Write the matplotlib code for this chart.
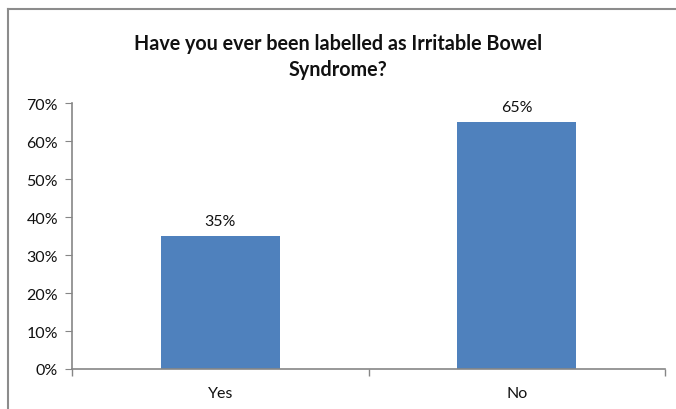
import matplotlib
matplotlib.use("Agg")
import matplotlib.pyplot as plt
from matplotlib.lines import Line2D
from matplotlib.ticker import FixedLocator, PercentFormatter

# Dados
categorias = ["Yes", "No"]
valores = [35, 65]
titulo = "Have you ever been labelled as Irritable Bowel\nSyndrome?"
ticks_y = [0, 10, 20, 30, 40, 50, 60, 70]

COR_BARRA = "#4F81BD"
COR_EIXO = "#868686"

plt.rcParams["font.family"] = ["Lato", "DejaVu Sans"]

fig = plt.figure(figsize=(6.76, 4.10), dpi=100)
ax = fig.add_axes([72 / 676, 1 - 370 / 410, (665 - 72) / 676, (370 - 104) / 410])

pos = list(range(len(categorias)))
barras = ax.bar(pos, valores, width=0.4, color=COR_BARRA, zorder=2)

for b, v in zip(barras, valores):
    ax.annotate(f"{v}%", (b.get_x() + b.get_width() / 2, v),
                xytext=(0, 6), textcoords="offset points",
                ha="center", va="bottom", fontsize=11.5, color="#111111")

ax.set_xlim(-0.5, len(categorias) - 0.5)
ax.set_ylim(0, 70)
ax.yaxis.set_major_locator(FixedLocator(ticks_y))
ax.yaxis.set_major_formatter(PercentFormatter(decimals=0))
ax.set_xticks(pos)
ax.set_xticklabels(categorias)
ax.xaxis.set_minor_locator(FixedLocator([-0.5, 0.5, 1.5]))

for s in ["top", "right"]:
    ax.spines[s].set_visible(False)
for s in ["left", "bottom"]:
    ax.spines[s].set_color(COR_EIXO)
    ax.spines[s].set_linewidth(1.2)

ax.tick_params(axis="y", length=5, color=COR_EIXO, labelsize=11.5, pad=5, labelcolor="#111111")
ax.tick_params(axis="x", which="major", length=0, labelsize=11.5, pad=12, labelcolor="#111111")
ax.tick_params(axis="x", which="minor", length=5, color=COR_EIXO, width=1)

fig.text(338 / 676, 1 - 57 / 410, titulo, ha="center", va="center",
         fontsize=14.2, fontweight="bold", linespacing=1.4, color="#111111")

# Moldura do gráfico
fig.add_artist(Line2D([8 / 676, 8 / 676], [0, 1 - 10 / 410], transform=fig.transFigure,
                      color="#8c8c8c", lw=1.5))
fig.add_artist(Line2D([8 / 676, 1], [1 - 10 / 410, 1 - 10 / 410], transform=fig.transFigure,
                      color="#8c8c8c", lw=1.5))

fig.savefig("out.png", dpi=100)
